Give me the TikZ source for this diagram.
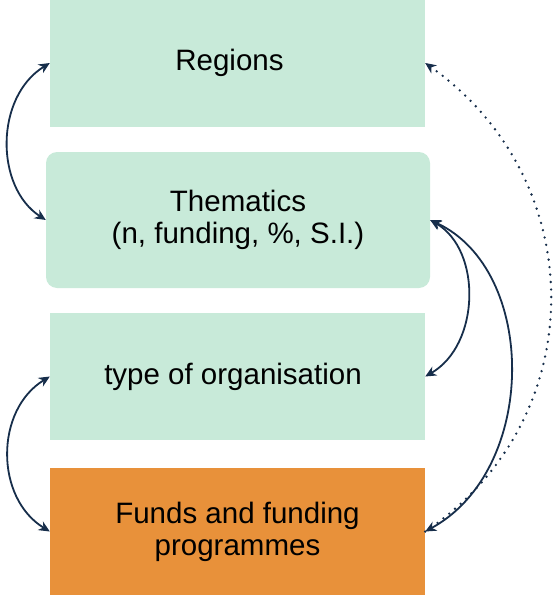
\documentclass[tikz,border=0pt]{standalone}
\usepackage{fontspec}
\setmainfont{Liberation Sans}
\usetikzlibrary{arrows.meta}
\definecolor{boxgreen}{HTML}{C8EAD9}
\definecolor{boxorange}{HTML}{E8913A}
\definecolor{arrowblue}{HTML}{172E4B}
\tikzset{
  box/.style={fill=boxgreen, draw=none, minimum width=375pt, minimum height=127pt,
    inner sep=0pt, align=center, font=\fontsize{29.5pt}{32pt}\selectfont, text=black},
  link/.style={draw=arrowblue, line width=1.8pt,
    arrows={Stealth[length=11pt,width=10pt,inset=3.5pt]-Stealth[length=11pt,width=10pt,inset=3.5pt]}},
  dotlink/.style={draw=arrowblue, line width=2.6pt, line cap=round, dash pattern=on 0pt off 7.5pt,
    arrows={-Stealth[length=11pt,width=10pt,inset=3.5pt,line width=0pt]}}
}
\begin{document}
\begin{tikzpicture}[x=1pt,y=-1pt]
\useasboundingbox (0,0) rectangle (552,597);
\node[box] (reg) at (237.5,63) [minimum height=128pt] {\hspace*{-16pt}Regions};
\node[box, rounded corners=11pt, minimum width=384pt, minimum height=136pt] (them) at (238,220) {Thematics\\(n, funding, \%, S.I.)};
\node[box] (org) at (237.5,376.5) {\hspace*{-9pt}type of organisation};
\node[box, fill=boxorange] (fund) at (237.5,531.5) {Funds and funding\\programmes};
% left connectors
\draw[link] (reg.west) .. controls +(-55,34) and +(-51,-33) .. (them.west);
\draw[link] (org.west) .. controls +(-55,33.5) and +(-55,-33.5) .. (fund.west);
% right connectors
\draw[link] (them.east) .. controls +(52,30) and +(55,-31.5) .. (org.east);
\draw[link] (them.east) .. controls +(108,50) and +(113,-61.5) .. (fund.east);
\draw[dotlink] (fund.east) .. controls +(167,-111.5) and +(167,119) .. (reg.east);
\end{tikzpicture}
\end{document}
